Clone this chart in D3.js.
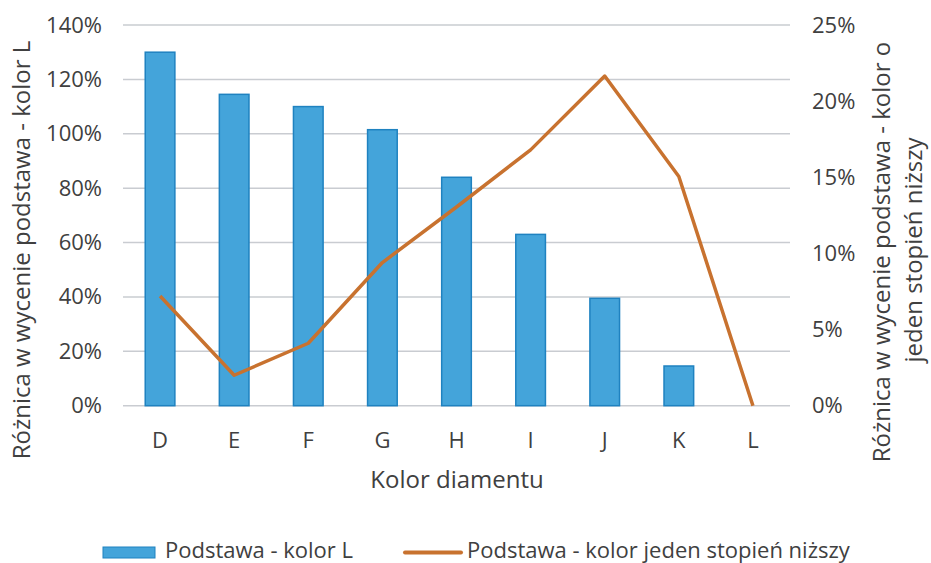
<!DOCTYPE html>
<html><head><meta charset="utf-8">
<script src="https://cdn.jsdelivr.net/npm/d3@7"></script>
<style>body{margin:0;background:#fff}text{font-family:"Open Sans",sans-serif;fill:#404040}</style>
</head><body><svg id="c" width="931" height="563"></svg>
<script>
const categories = ["D","E","F","G","H","I","J","K","L"];
const barValues = [1.30, 1.145, 1.10, 1.015, 0.84, 0.63, 0.395, 0.146, 0];
const lineValues = [0.072, 0.020, 0.041, 0.094, 0.1305, 0.168, 0.2165, 0.1505, 0];
const leftTicks = [0,0.2,0.4,0.6,0.8,1.0,1.2,1.4];
const rightTicks = [0,0.05,0.10,0.15,0.20,0.25];
const barName = "Podstawa - kolor L";
const lineName = "Podstawa - kolor jeden stopień niższy";
const xTitle = "Kolor diamentu";
const yLeftTitle = "Różnica w wycenie podstawa - kolor L";
const yRightTitle = ["Różnica w wycenie podstawa - kolor o", "jeden stopień niższy"];

const svg = d3.select("#c");
const L = 123, R = 790, T = 25, B = 405.7;
const x = d3.scaleBand().domain(categories).range([L,R]).paddingInner(0.6).paddingOuter(0.3);
const yL = d3.scaleLinear().domain([0,1.4]).range([B,T]);
const yR = d3.scaleLinear().domain([0,0.25]).range([B,T]);
const pct = d3.format(".0%");

// gridlines
svg.append("g").selectAll("line").data(leftTicks).join("line")
  .attr("x1",L).attr("x2",R).attr("y1",d=>yL(d)).attr("y2",d=>yL(d))
  .attr("stroke","#c9ccd1").attr("stroke-width",1.5);

function styleAxis(g){
  g.select(".domain").remove();
  g.selectAll("text").style("font-size","22px").attr("fill","#404040").attr("font-family","Open Sans");
}
// left axis
svg.append("g").attr("transform",`translate(102,0)`)
  .call(d3.axisLeft(yL).tickValues(leftTicks).tickFormat(pct).tickSize(0).tickPadding(0)).call(styleAxis);

// right axis
svg.append("g").attr("transform",`translate(812,0)`)
  .call(d3.axisRight(yR).tickValues(rightTicks).tickFormat(pct).tickSize(0).tickPadding(0)).call(styleAxis);

// x axis
svg.append("g").attr("transform",`translate(0,432)`)
  .call(d3.axisBottom(x).tickSize(0).tickPadding(0)).call(styleAxis);

// bars
svg.append("g").selectAll("rect").data(categories.map((c,i)=>({c,v:barValues[i]})).filter(d=>d.v>0)).join("rect")
  .attr("x",d=>x(d.c)).attr("width",x.bandwidth())
  .attr("y",d=>yL(d.v)).attr("height",d=>B-yL(d.v))
  .attr("fill","#44a4da").attr("stroke","#1f82c0").attr("stroke-width",1.5);

// line
const line = d3.line().x((d,i)=>x(categories[i])+x.bandwidth()/2).y(d=>yR(d));
svg.append("path").datum(lineValues).attr("d",line)
  .attr("fill","none").attr("stroke","#c8722f").attr("stroke-width",3.5).attr("stroke-linejoin","round");

// titles
svg.append("text").attr("x",457).attr("y",488).attr("text-anchor","middle").style("font-size","24px").text(xTitle);
svg.append("text").attr("transform","translate(30,250) rotate(-90)").attr("text-anchor","middle").style("font-size","24px").text(yLeftTitle);
svg.append("text").attr("transform","translate(890,252) rotate(-90)").attr("text-anchor","middle").style("font-size","24px").text(yRightTitle[0]);
svg.append("text").attr("transform","translate(922,250) rotate(-90)").attr("text-anchor","middle").style("font-size","24px").text(yRightTitle[1]);

// legend
const lg = svg.append("g");
lg.append("rect").attr("x",103).attr("y",547).attr("width",52).attr("height",11).attr("fill","#44a4da").attr("stroke","#1f82c0").attr("stroke-width",1);
lg.append("text").attr("x",165).attr("y",558).style("font-size","22px").text(barName);
lg.append("line").attr("x1",405).attr("x2",461).attr("y1",552.5).attr("y2",552.5).attr("stroke","#c8722f").attr("stroke-width",4).attr("stroke-linecap","round");
lg.append("text").attr("x",467).attr("y",558).style("font-size","22px").text(lineName);
</script></body></html>
